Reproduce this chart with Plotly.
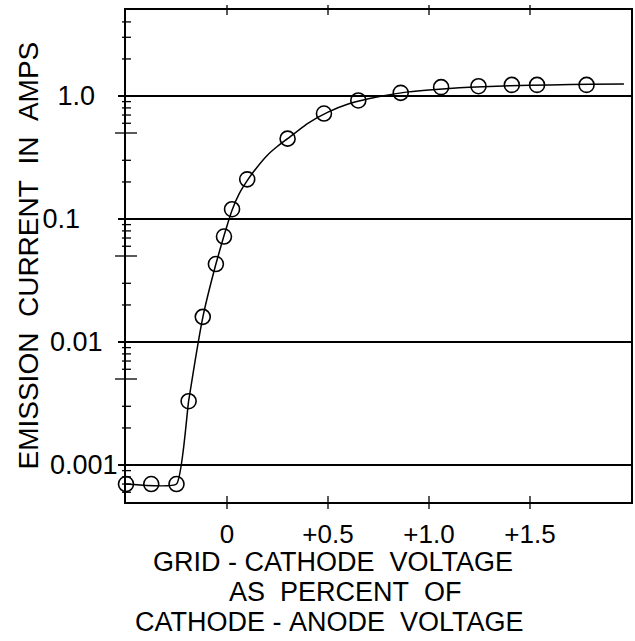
import plotly.graph_objects as go

# ---- data ----
volt_pts = [-0.5, -0.375, -0.25, -0.19, -0.12, -0.055, -0.015, 0.025, 0.1, 0.3,
            0.48, 0.65, 0.86, 1.06, 1.245, 1.41, 1.535, 1.78]
amps_pts = [0.0007, 0.0007, 0.0007, 0.0033, 0.016, 0.043, 0.072, 0.12, 0.21, 0.45,
            0.72, 0.92, 1.06, 1.18, 1.2, 1.23, 1.23, 1.23]

volt_curve = [-0.5, -0.25, -0.19, -0.12, -0.055, -0.015, 0.025, 0.06, 0.1, 0.15, 0.2, 0.25,
              0.3, 0.4, 0.5, 0.6, 0.7, 0.8, 0.9, 1.0, 1.1, 1.2, 1.4, 1.6, 1.8, 1.965]
amps_curve = [0.0007, 0.0007, 0.0033, 0.0158, 0.043, 0.073, 0.118, 0.16, 0.205, 0.265, 0.33, 0.39,
              0.45, 0.6, 0.74, 0.86, 0.95, 1.02, 1.08, 1.12, 1.15, 1.18, 1.21, 1.23, 1.245, 1.25]

x_tickvals = [0, 0.5, 1.0, 1.5]
x_ticktext = ["0", "+0.5", "+1.0", "+1.5"]
y_tickvals = [0.001, 0.01, 0.1, 1.0]
y_ticktext = ["0.001", "0.01\u00a0\u00a0", "0.1\u00a0\u00a0\u00a0\u00a0\u00a0", "1.0\u00a0\u00a0\u00a0"]
y_minor_short = [0.0006, 0.0007, 0.0008, 0.0009,
                 0.002, 0.003, 0.006, 0.007, 0.008, 0.009,
                 0.02, 0.03, 0.06, 0.07, 0.08, 0.09,
                 0.2, 0.3, 0.6, 0.7, 0.8, 0.9,
                 2, 3, 4]
y_minor_long = [0.005, 0.05, 0.5]

x_title_lines = ["GRID\u00a0-\u00a0CATHODE\u00a0\u00a0VOLTAGE",
                 "AS\u00a0\u00a0PERCENT\u00a0\u00a0OF",
                 "CATHODE\u00a0-\u00a0ANODE\u00a0\u00a0VOLTAGE"]
y_title = "EMISSION\u00a0\u00a0CURRENT\u00a0\u00a0IN\u00a0\u00a0AMPS"

FONT = "Liberation Sans"

fig = go.Figure()
fig.add_trace(go.Scatter(x=volt_curve, y=amps_curve, mode="lines",
                         line=dict(color="black", width=1.5, shape="spline", smoothing=0.4),
                         cliponaxis=False, showlegend=False, hoverinfo="skip"))
fig.add_trace(go.Scatter(x=volt_pts, y=amps_pts, mode="markers",
                         marker=dict(symbol="circle-open", size=15, color="black",
                                     line=dict(color="black", width=1.6)),
                         cliponaxis=False, showlegend=False))

shapes = []
for v in y_minor_short:
    shapes.append(dict(type="line", xref="paper", yref="y", xsizemode="pixel", xanchor=0,
                       x0=-4, x1=5, y0=v, y1=v, line=dict(color="black", width=1.3)))
for v in y_minor_long:
    shapes.append(dict(type="line", xref="paper", yref="y", xsizemode="pixel", xanchor=0,
                       x0=-11, x1=11, y0=v, y1=v, line=dict(color="black", width=1.3)))
for v in x_tickvals:
    shapes.append(dict(type="line", xref="x", yref="paper", ysizemode="pixel", yanchor=0,
                       y0=-7, y1=6, x0=v, x1=v, line=dict(color="black", width=1.3)))
    shapes.append(dict(type="line", xref="x", yref="paper", ysizemode="pixel", yanchor=1,
                       y0=-5, y1=5, x0=v, x1=v, line=dict(color="black", width=1.3)))

annotations = [dict(text=y_title, xref="paper", yref="paper", x=-0.195, y=0.5,
                    textangle=-90, showarrow=False, xanchor="center", yanchor="middle",
                    font=dict(family=FONT, size=28, color="black"))]
for txt, xc, yc in zip(x_title_lines, [0.410, 0.434, 0.402], [-0.122, -0.183, -0.244]):
    annotations.append(dict(text=txt, xref="paper", yref="paper", x=xc, y=yc,
                            showarrow=False, xanchor="center", yanchor="middle",
                            font=dict(family=FONT, size=27, color="black")))

fig.update_layout(
    width=635, height=641,
    margin=dict(l=126, r=2, t=10, b=139),
    paper_bgcolor="white", plot_bgcolor="white",
    font=dict(family=FONT, color="black"),
    shapes=shapes, annotations=annotations,
    xaxis=dict(range=[-0.5, 2.0], showgrid=False, zeroline=False,
               showline=True, linecolor="black", linewidth=2, mirror=True,
               tickmode="array", tickvals=x_tickvals, ticktext=x_ticktext,
               ticks="", ticklabelstandoff=8,
               tickfont=dict(family=FONT, size=26, color="black")),
    yaxis=dict(type="log", range=[-3.301, 0.699], showgrid=True, gridcolor="black",
               gridwidth=1.5, zeroline=False,
               showline=True, linecolor="black", linewidth=2, mirror=True,
               tickmode="array", tickvals=y_tickvals, ticktext=y_ticktext,
               ticks="outside", ticklen=6, tickwidth=1.5, tickcolor="black",
               ticklabelstandoff=-5,
               tickfont=dict(family=FONT, size=27, color="black")),
)

fig.write_html("out.html", config={"displayModeBar": False},
               post_script="document.body.style.margin='0px';document.body.style.overflow='hidden';")
